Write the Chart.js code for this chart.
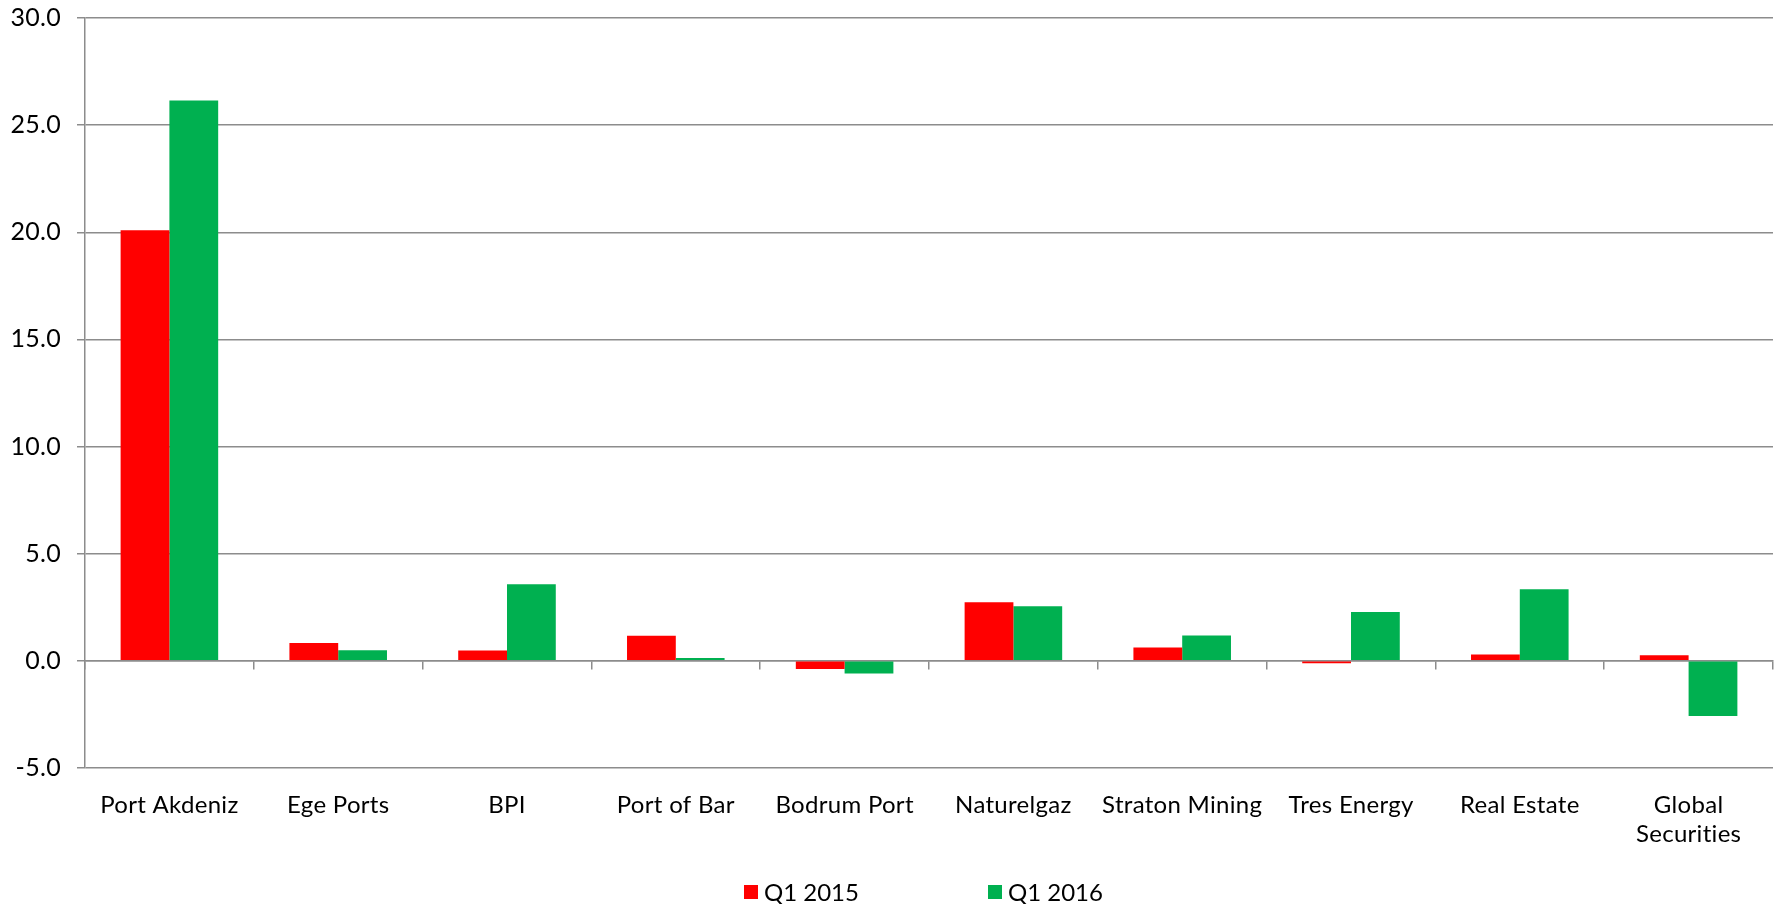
<!DOCTYPE html>
<html>
<head>
<meta charset="utf-8">
<script src="https://cdn.jsdelivr.net/npm/chart.js@4/dist/chart.umd.min.js"></script>
<style>
  html, body { margin: 0; padding: 0; background: #fff; }
  #wrap { position: relative; width: 1781px; height: 904px; }
  #legend { position: absolute; left: 744px; top: 877px; display: flex; align-items: center;
            font-family: Lato, sans-serif; font-size: 24px; color: #000; }
  .item { display: flex; align-items: center; margin-right: 129px; }
  .box { width: 14px; height: 14px; margin-right: 6px; }
</style>
</head>
<body>
<div id="wrap">
  <canvas id="portfolioChart"></canvas>
  <div id="legend"></div>
</div>
<script>
// Categories and series values.
var categories = ['Port Akdeniz', 'Ege Ports', 'BPI', 'Port of Bar', 'Bodrum Port',
    'Naturelgaz', 'Straton Mining', 'Tres Energy', 'Real Estate', ['Global', 'Securities']];
var q1_2015 = [20.1, 0.83, 0.48, 1.17, -0.38, 2.74, 0.62, -0.11, 0.3, 0.26];
var q1_2016 = [26.15, 0.49, 3.58, 0.13, -0.59, 2.55, 1.18, 2.28, 3.34, -2.57];
var seriesNames = ['Q1 2015', 'Q1 2016'];
var seriesColors = ['#ff0000', '#00b050'];
var yTicks = { min: -5, max: 30, step: 5 };

var gridColor = '#8c8c8c';
var chart;

// Small letter spacing keeps Lato from joining "ti" into a ligature.
var spacingPlugin = {
    id: 'spacing',
    beforeDraw: function (c) { c.ctx.letterSpacing = '0.3px'; }
};

function initChart() {
    var ctx = document.getElementById('portfolioChart').getContext('2d');
    chart = new Chart(ctx, {
        type: 'bar',
        data: {
            labels: categories,
            datasets: [{
                label: seriesNames[0],
                backgroundColor: seriesColors[0],
                data: q1_2015
            }, {
                label: seriesNames[1],
                backgroundColor: seriesColors[1],
                data: q1_2016
            }]
        },
        plugins: [spacingPlugin],
        options: {
            responsive: true,
            maintainAspectRatio: false,
            animation: false,
            datasets: { bar: { categoryPercentage: 0.578, barPercentage: 1.0 } },
            layout: { padding: { top: 0, right: 8, bottom: 0, left: 0 } },
            plugins: { legend: { display: false }, tooltip: { enabled: false } },
            scales: {
                x: {
                    position: 'bottom',
                    grid: { display: false, drawTicks: false },
                    border: { display: false },
                    ticks: { color: '#000', padding: 23, font: { family: 'Lato', size: 24 }, maxRotation: 0, autoSkip: false },
                    afterFit: function (s) { s.height = 136; }
                },
                // zero line with the category tick marks
                x0: {
                    position: { y: 0 },
                    labels: categories,
                    offset: true,
                    grid: { display: true, drawOnChartArea: false, drawTicks: true, tickLength: 8, color: gridColor, lineWidth: 1.5 },
                    border: { display: true, color: gridColor, width: 1.5 },
                    ticks: { display: false }
                },
                y: {
                    min: yTicks.min,
                    max: yTicks.max,
                    ticks: {
                        stepSize: yTicks.step,
                        padding: 16,
                        color: '#000',
                        font: { family: 'Lato', size: 25, lineHeight: 1.2 },
                        callback: function (v) { return v.toFixed(1); }
                    },
                    grid: { color: gridColor, lineWidth: 1.5, tickLength: 8 },
                    border: { display: true, color: gridColor, width: 1.5 },
                    afterFit: function (s) { s.width = 85; s.paddingTop = 18; }
                }
            }
        }
    });
}

// Legend drawn as html below the chart.
function buildLegend() {
    var el = document.getElementById('legend');
    chart.data.datasets.forEach(function (ds) {
        var item = document.createElement('div');
        item.className = 'item';
        var box = document.createElement('span');
        box.className = 'box';
        box.style.background = ds.backgroundColor;
        var txt = document.createElement('span');
        txt.textContent = ds.label;
        item.appendChild(box);
        item.appendChild(txt);
        el.appendChild(item);
    });
}

initChart();
buildLegend();
</script>
</body>
</html>
